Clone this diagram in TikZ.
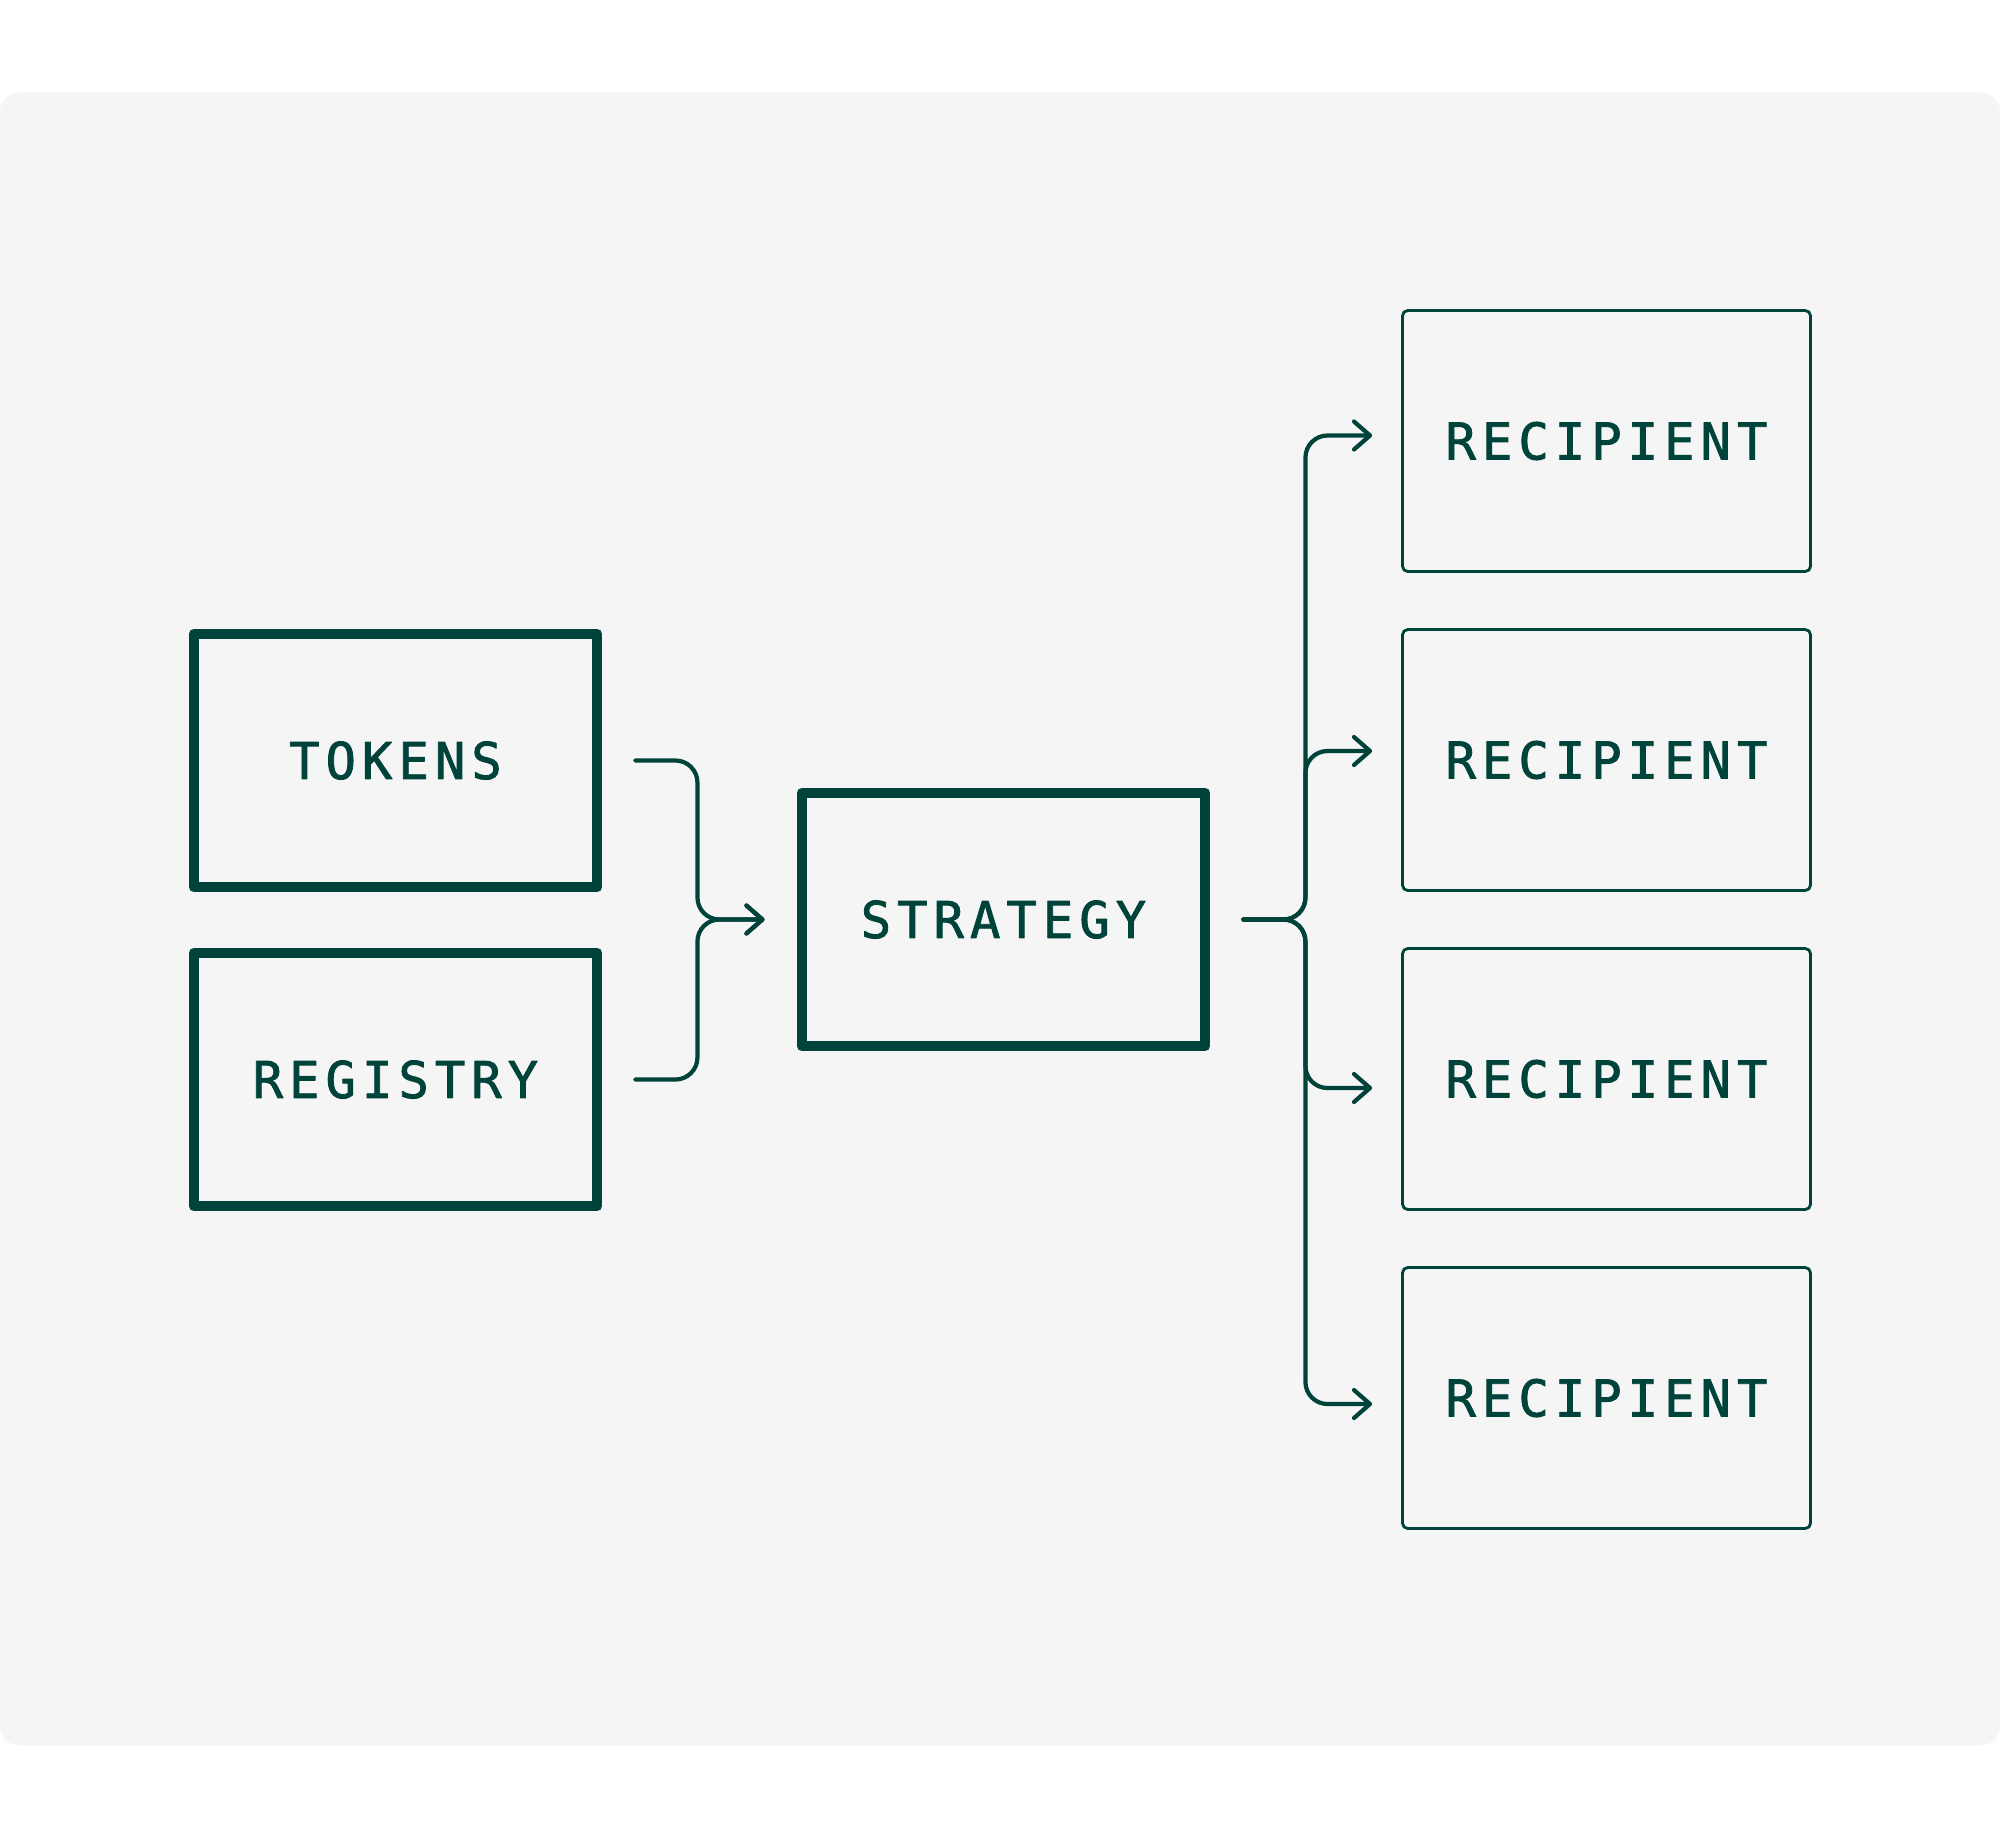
\documentclass[tikz,border=0pt]{standalone}
\usepackage{fontspec}
\usetikzlibrary{arrows.meta,calc}
\newfontfamily\boxfont[LetterSpace=11.8,FakeBold=1.6]{DejaVu Sans Mono}
\definecolor{pine}{HTML}{00433A}
\definecolor{panelgray}{HTML}{F5F5F5}
\tikzset{
	heavybox/.style={draw=pine, line width=3.1pt, line join=round, minimum width=4.03cm, minimum height=2.53cm, inner sep=0pt, text=pine, font=\boxfont\fontsize{14.4}{16}\selectfont},
	lightbox/.style={draw=pine, line width=0.8pt, rounded corners=1.5pt, minimum width=4.08cm, minimum height=2.61cm, inner sep=0pt, text=pine, font=\boxfont\fontsize{14.4}{16}\selectfont},
	link/.style={draw=pine, line width=1.2pt, line cap=round, rounded corners=0.22cm, -{Straight Barb[length=1.6mm,width=2.8mm,round]}}
}

\begin{document}
\begin{tikzpicture}
			%%%%% START %%%%%
			\fill[white] (0, 0) rectangle (20, -18.38);
			\useasboundingbox (0, 0) rectangle (20, -18.38);
			\filldraw[fill=panelgray, draw=black!3, rounded corners=0.2cm] (0, -0.93) rectangle (20, -17.45);
			
			\node[heavybox] (tokens) at (3.955, -7.605) {TOKENS};
			\node[heavybox] (registry) at (3.955, -10.795) {REGISTRY};
			
			\node[heavybox] (strategy) at (10.035, -9.195) {STRATEGY};
			
			\node[lightbox] (recipA) at (16.065, -4.41) {RECIPIENT};
			\node[lightbox] (recipB) at (16.065, -7.60) {RECIPIENT};
			\node[lightbox] (recipC) at (16.065, -10.79) {RECIPIENT};
			\node[lightbox] (recipD) at (16.065, -13.98) {RECIPIENT};
			
			\draw[link] ([xshift=3.3mm]tokens.east) -- ++(0.62, 0) |- ([xshift=-3.2mm]strategy.west);
			\draw[link] ([xshift=3.3mm]registry.east) -- ++(0.62, 0) |- ([xshift=-3.2mm]strategy.west);
			
			\draw[link] ([xshift=3.3mm]strategy.east) -- ++(0.62, 0) |- ([xshift=-2.9mm, yshift=0.55mm]recipA.west);
			\draw[link] ([xshift=3.3mm]strategy.east) -- ++(0.62, 0) |- ([xshift=-2.9mm, yshift=0.9mm]recipB.west);
			\draw[link] ([xshift=3.3mm]strategy.east) -- ++(0.62, 0) |- ([xshift=-2.9mm, yshift=-0.9mm]recipC.west);
			\draw[link] ([xshift=3.3mm]strategy.east) -- ++(0.62, 0) |- ([xshift=-2.9mm, yshift=-0.6mm]recipD.west);
			%%%%% END %%%%%
\end{tikzpicture}
\end{document}
